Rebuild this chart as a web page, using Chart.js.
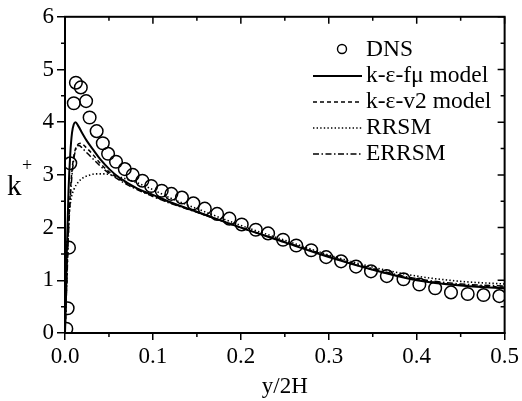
<!DOCTYPE html>
<html>
<head>
<meta charset="utf-8">
<script src="https://cdn.jsdelivr.net/npm/chart.js@4/dist/chart.umd.min.js"></script>
<style>
html,body{margin:0;padding:0;background:#fff;}
#wrap{width:522px;height:401px;position:relative;}
</style>
</head>
<body>
<div id="wrap"><canvas id="c" width="522" height="401"></canvas></div>
<script>
// ---- data ----
const xTickLabels = ['0.0','0.1','0.2','0.3','0.4','0.5'];
const yTickLabels = ['0','1','2','3','4','5','6'];

const dnsX = [0.0015,0.003,0.0045,0.006,0.010,0.0124,0.018,0.024,0.028,0.036,0.043,0.049,0.058,0.068,0.077,0.088,0.098,0.110,0.121,0.133,0.146,0.159,0.173,0.187,0.201,0.217,0.231,0.248,0.263,0.280,0.297,0.314,0.331,0.348,0.366,0.385,0.403,0.421,0.439,0.458,0.476,0.494];
const dnsY = [0.08,0.47,1.62,3.22,4.36,4.75,4.66,4.40,4.09,3.83,3.60,3.40,3.25,3.11,3.00,2.89,2.79,2.70,2.64,2.57,2.46,2.36,2.26,2.17,2.06,1.96,1.89,1.77,1.66,1.57,1.44,1.36,1.26,1.17,1.08,1.02,0.92,0.85,0.77,0.74,0.72,0.70];

const fmuX = [0,0.001,0.002,0.004,0.006,0.008,0.010,0.012,0.015,0.02,0.025,0.032,0.04,0.051,0.06,0.07,0.085,0.1,0.12,0.15,0.2,0.25,0.3,0.35,0.4,0.45,0.5];
const fmuY = [0,0.6,1.5,2.7,3.4,3.8,3.96,4.0,3.93,3.78,3.64,3.48,3.3,3.1,2.97,2.86,2.72,2.62,2.48,2.3,2.0,1.72,1.44,1.2,1.0,0.9,0.85];

const v2X = [0,0.002,0.004,0.007,0.01,0.014,0.018,0.024,0.032,0.04,0.05,0.06,0.07,0.085,0.1,0.12,0.15,0.2,0.25,0.3,0.35,0.4,0.45,0.5];
const v2Y = [0,1.0,2.0,2.9,3.35,3.57,3.6,3.52,3.38,3.22,3.06,2.94,2.84,2.71,2.6,2.47,2.3,2.0,1.73,1.45,1.2,1.01,0.91,0.87];

const rrsmX = [0,0.001,0.002,0.003,0.0045,0.007,0.01,0.015,0.02,0.027,0.035,0.045,0.055,0.07,0.085,0.1,0.12,0.15,0.2,0.25,0.3,0.35,0.4,0.45,0.5];
const rrsmY = [0,0.5,1.1,1.6,2.2,2.55,2.72,2.86,2.94,2.99,3.02,3.02,2.99,2.92,2.83,2.72,2.56,2.36,2.04,1.76,1.48,1.25,1.08,0.98,0.93];

const errsmX = [0,0.002,0.004,0.007,0.01,0.013,0.016,0.02,0.026,0.032,0.04,0.05,0.06,0.07,0.085,0.1,0.12,0.15,0.2,0.25,0.3,0.35,0.4,0.45,0.5];
const errsmY = [0,0.9,1.9,2.8,3.3,3.52,3.56,3.5,3.4,3.3,3.17,3.03,2.92,2.82,2.7,2.59,2.46,2.29,2.0,1.73,1.46,1.22,1.03,0.93,0.89];

const seriesLabels = ['DNS','k-ε-fμ model','k-ε-v2 model','RRSM','ERRSM'];

const zip = (xs, ys) => xs.map((v,i)=>({x:v,y:ys[i]}));
const FONT = "'Liberation Serif','Times New Roman',serif";

const lineDs = (label, xs, ys, dash, w) => ({
  label, data: zip(xs,ys), showLine:true, pointRadius:0, borderColor:'#000',
  borderWidth:w, borderDash:dash, fill:false, tension:0.35, cubicInterpolationMode:'monotone'
});

const datasets = [
  {label:seriesLabels[0], data:zip(dnsX,dnsY), showLine:false, pointStyle:'circle', pointRadius:6.3,
   pointBorderWidth:1.5, pointBorderColor:'#000', pointBackgroundColor:'rgba(0,0,0,0)', order:0},
  lineDs(seriesLabels[1], fmuX, fmuY, [], 2),
  lineDs(seriesLabels[2], v2X, v2Y, [4,3], 1.5),
  lineDs(seriesLabels[3], rrsmX, rrsmY, [1.4,2.2], 1.6),
  lineDs(seriesLabels[4], errsmX, errsmY, [6,2.5,1.5,2.5], 1.5)
];

const framePlugin = {
  id:'frame',
  afterDraw(chart){
    const {ctx, chartArea:a, scales:{x,y}} = chart;
    ctx.save();
    ctx.strokeStyle='#000';
    ctx.lineWidth=2;
    ctx.strokeRect(a.left,a.top,a.right-a.left,a.bottom-a.top);
    ctx.lineWidth=1.5;
    ctx.beginPath();
    const xt = x.ticks.map(t=>t.value), yt = y.ticks.map(t=>t.value);
    xt.forEach(v=>{const p=x.getPixelForValue(v); ctx.moveTo(p,a.top); ctx.lineTo(p,a.top+7);});
    yt.forEach(v=>{const p=y.getPixelForValue(v); ctx.moveTo(a.right,p); ctx.lineTo(a.right-7,p);});
    for(let i=0;i<xt.length-1;i++){
      const p=x.getPixelForValue((xt[i]+xt[i+1])/2);
      ctx.moveTo(p,a.top); ctx.lineTo(p,a.top+4);
      ctx.moveTo(p,a.bottom); ctx.lineTo(p,a.bottom+4);
    }
    for(let i=0;i<yt.length-1;i++){
      const p=y.getPixelForValue((yt[i]+yt[i+1])/2);
      ctx.moveTo(a.right,p); ctx.lineTo(a.right-4,p);
      ctx.moveTo(a.left,p); ctx.lineTo(a.left-4,p);
    }
    ctx.stroke();

    ctx.fillStyle='#000';
    ctx.textBaseline='alphabetic';
    ctx.textAlign='left';
    ctx.font='29px '+FONT;
    ctx.fillText('k',7,195);
    ctx.font='18px '+FONT;
    ctx.fillText('+',22,171);

    const x0=313, x1=362, tx=366, ty0=49, dy=26;
    ctx.font='23.5px '+FONT;
    ctx.textBaseline='middle';
    chart.data.datasets.forEach((ds,i)=>{
      const yy = ty0 + i*dy;
      if(i===0){
        ctx.beginPath(); ctx.lineWidth=1.4; ctx.setLineDash([]);
        ctx.arc(342,yy,4.5,0,Math.PI*2); ctx.stroke();
      } else {
        ctx.beginPath(); ctx.lineWidth=ds.borderWidth; ctx.setLineDash(ds.borderDash||[]);
        ctx.moveTo(x0,yy+1); ctx.lineTo(x1,yy+1); ctx.stroke();
        ctx.setLineDash([]);
      }
      ctx.fillText(ds.label,tx,yy+1);
    });
    ctx.restore();
  }
};

new Chart(document.getElementById('c'),{
  type:'scatter',
  data:{datasets},
  options:{
    responsive:false, animation:false, devicePixelRatio:1,
    layout:{padding:{top:15,right:14,left:0,bottom:0}, autoPadding:false},
    plugins:{legend:{display:false}, tooltip:{enabled:false}},
    scales:{
      x:{type:'linear', min:0, max:0.5,
        afterFit(s){s.height=68;},
        ticks:{stepSize:0.1, color:'#000', padding:3, maxRotation:0, autoSkip:false,
          font:{family:FONT,size:23},
          callback:(v)=>{const i=Math.round(v*10); return xTickLabels[i]!==undefined?xTickLabels[i]:'';}},
        grid:{drawOnChartArea:false, drawTicks:true, tickLength:7, color:'#000', lineWidth:1.5},
        border:{display:true,color:'#000',width:2},
        title:{display:true,text:'y/2H',color:'#000',font:{family:FONT,size:23},padding:{top:0,bottom:0}}
      },
      y:{type:'linear', min:0, max:6,
        afterFit(s){s.width=65;},
        ticks:{stepSize:1, color:'#000', padding:3, autoSkip:false,
          font:{family:FONT,size:23},
          callback:(v)=>{const i=Math.round(v); return yTickLabels[i]!==undefined?yTickLabels[i]:'';}},
        grid:{drawOnChartArea:false, drawTicks:true, tickLength:8, color:'#000', lineWidth:1.5},
        border:{display:true,color:'#000',width:2}
      }
    }
  },
  plugins:[framePlugin]
});
</script>
</body>
</html>
